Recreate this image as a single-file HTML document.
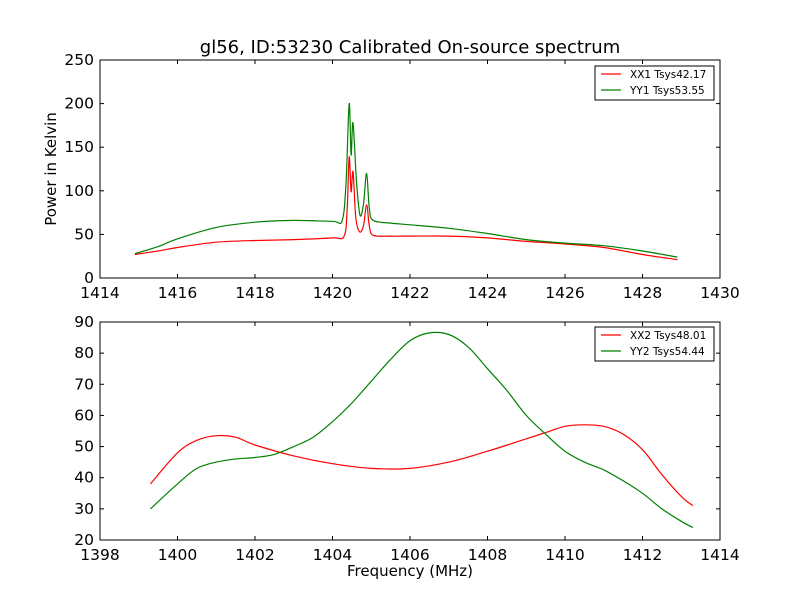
<!DOCTYPE html>
<html><head><meta charset="utf-8"><style>
body{margin:0;background:#fff;}
svg{display:block;font-family:"DejaVu Sans","Liberation Sans",sans-serif;}
</style></head><body>
<svg id="c" width="800" height="600"></svg>
<script>
const topTicksX=[1414,1416,1418,1420,1422,1424,1426,1428,1430];
const topTicksY=[0,50,100,150,200,250];
const botTicksX=[1398,1400,1402,1404,1406,1408,1410,1412,1414];
const botTicksY=[20,30,40,50,60,70,80,90];
const xx1F=[1414.9,1415.5,1416,1417,1418,1419,1420,1420.3,1420.38,1420.43,1420.48,1420.53,1420.6,1420.7,1420.8,1420.88,1420.95,1421.05,1421.5,1422,1423,1424,1425,1426,1427,1428,1428.9];
const xx1V=[27,31,35,41,43,44,46,48,80,139,99,122,70,53,60,84,60,49,48,48,48,46,42,39,35,27,21];
const yy1F=[1414.9,1415.5,1416,1417,1418,1419,1420,1420.25,1420.35,1420.43,1420.48,1420.53,1420.62,1420.71,1420.8,1420.88,1420.95,1421.05,1421.5,1422,1423,1424,1425,1426,1427,1428,1428.9];
const yy1V=[28,36,45,58,64,66,65,66,110,200,141,178,110,72,85,120,80,66,63,61,57,51,44,40,37,31,24];
const xx2F=[1399.3,1400,1400.5,1401,1401.5,1402,1403,1404,1405,1406,1407,1408,1409,1409.5,1410,1410.5,1411,1411.5,1412,1412.5,1413,1413.3];
const xx2V=[38,48,52,53.5,53,50.5,47,44.5,43,43,45,48.5,52.5,54.5,56.5,57,56.5,54,49,41,34,31];
const yy2F=[1399.3,1400,1400.5,1401,1401.5,1402,1402.5,1403,1403.5,1404,1404.5,1405,1405.5,1406,1406.5,1407,1407.5,1408,1408.5,1409,1409.5,1410,1410.5,1411,1411.5,1412,1412.5,1413,1413.3];
const yy2V=[30,38,43,45,46,46.5,47.5,50,53,58,64,71,78,84,86.5,86,82,75,68,60,54,48.5,45,42.5,39,35,30,26,24];

const svg=document.getElementById('c');
const NS='http://www.w3.org/2000/svg';
function el(t,a,p){const e=document.createElementNS(NS,t);for(const k in a)e.setAttribute(k,a[k]);(p||svg).appendChild(e);return e;}
function txt(s,a,p){const e=el('text',a,p);e.textContent=s;return e;}
function smooth(P){
  let d='M'+P[0][0].toFixed(1)+','+P[0][1].toFixed(1);
  for(let i=0;i<P.length-1;i++){
    const p0=P[Math.max(0,i-1)],p1=P[i],p2=P[i+1],p3=P[Math.min(P.length-1,i+2)];
    const c1=[p1[0]+(p2[0]-p0[0])/6,p1[1]+(p2[1]-p0[1])/6];
    const c2=[p2[0]-(p3[0]-p1[0])/6,p2[1]-(p3[1]-p1[1])/6];
    d+=' C'+c1.map(v=>v.toFixed(1))+' '+c2.map(v=>v.toFixed(1))+' '+p2.map(v=>v.toFixed(1));
  }
  return d;
}
function panel(name,x0,x1,y0,y1,xmin,xmax,ymin,ymax,xt,yt,series,legend,ly){
  const g=el('g',{});
  
  
  const sx=v=>x0+(v-xmin)/(xmax-xmin)*(x1-x0);
  const sy=v=>y1-(v-ymin)/(ymax-ymin)*(y1-y0);
  series.forEach(s=>{
    const P=s.f.map((f,i)=>[sx(f),sy(s.v[i])]);
    const pl=el('path',{d:smooth(P),fill:'none',stroke:s.c,'stroke-width':1.2},g);
    
    
  });
  el('rect',{x:x0,y:y0,width:x1-x0,height:y1-y0,fill:'none',stroke:'#000','stroke-width':1},g);
  xt.forEach(v=>{const x=sx(v);
    el('line',{x1:x,x2:x,y1:y1,y2:y1-4,stroke:'#000'},g);el('line',{x1:x,x2:x,y1:y0,y2:y0+4,stroke:'#000'},g);
    const t=txt(String(v),{x:x,y:y1+20,'font-size':15.5,'text-anchor':'middle'},g);
    
    });
  yt.forEach(v=>{const y=sy(v);
    el('line',{x1:x0,x2:x0+4,y1:y,y2:y,stroke:'#000'},g);el('line',{x1:x1,x2:x1-4,y1:y,y2:y,stroke:'#000'},g);
    const t=txt(String(v),{x:x0-6,y:y+5,'font-size':15.5,'text-anchor':'end'},g);
    
    });
  const lg=el('g',{},g);
  
  
  el('rect',{x:595,y:ly,width:119,height:34,fill:'#fff',stroke:'#000'},lg);
  legend.forEach((l,i)=>{const y=ly+8+i*16;
    el('line',{x1:601,x2:621,y1:y,y2:y,stroke:l.c,'stroke-width':1.2},lg);
    const t=txt(l.t,{x:630,y:y+4,'font-size':10.5},lg);
    
    });
}
panel('top-panel',100,720,60,278,1414,1430,0,250,topTicksX,topTicksY,
 [{f:xx1F,v:xx1V,c:'#ff0000',n:'xx1-line'},{f:yy1F,v:yy1V,c:'#008000',n:'yy1-line'}],
 [{t:'XX1 Tsys42.17',c:'#ff0000'},{t:'YY1 Tsys53.55',c:'#008000'}],66);
panel('bottom-panel',100,720,322,540,1398,1414,20,90,botTicksX,botTicksY,
 [{f:xx2F,v:xx2V,c:'#ff0000',n:'xx2-line'},{f:yy2F,v:yy2V,c:'#008000',n:'yy2-line'}],
 [{t:'XX2 Tsys48.01',c:'#ff0000'},{t:'YY2 Tsys54.44',c:'#008000'}],327);
let t=txt('gl56, ID:53230 Calibrated On-source spectrum',{x:410,y:53,'font-size':18,'text-anchor':'middle'});


t=txt('Power in Kelvin',{x:0,y:0,'font-size':15,'text-anchor':'middle',transform:'translate(56,169) rotate(-90)'});


t=txt('Frequency (MHz)',{x:410,y:576,'font-size':15,'text-anchor':'middle'});


</script>
</body></html>
